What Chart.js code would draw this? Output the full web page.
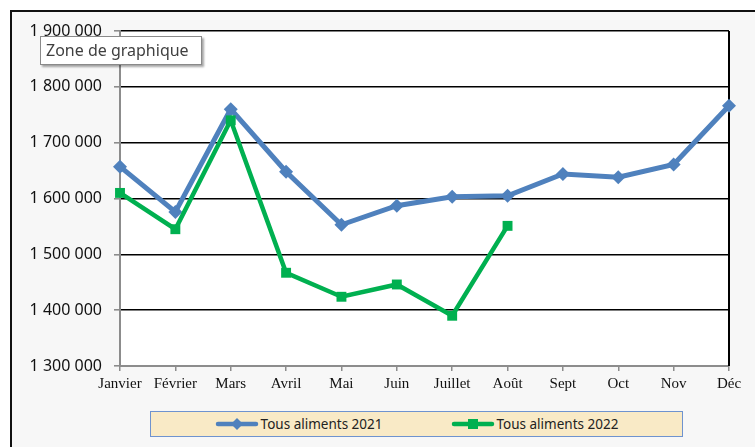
<!DOCTYPE html>
<html>
<head>
<meta charset="utf-8">
<script src="https://cdn.jsdelivr.net/npm/chart.js@4"></script>
<style>
  html, body { margin: 0; padding: 0; background: #fff; }
  body { width: 755px; height: 447px; position: relative; overflow: hidden; }
  #frame {
    position: absolute; left: 10px; top: 10px; width: 760px; height: 450px;
    background: #f7f7f7; border-left: 2px solid #111; border-top: 2px solid #111;
  }
  #chart { position: absolute; left: 0; top: 0; }
  #tip {
    position: absolute; left: 40px; top: 36px;
    background: #fff; border: 1px solid #8a8a8a; box-shadow: 2px 2px 2px rgba(0,0,0,0.35);
    font: 16px "Noto Sans", sans-serif; color: #404040; line-height: 27px;
    padding-left: 5px; box-sizing: border-box; width: 162px; height: 29px;
  }
  #legend {
    position: absolute; left: 150px; top: 411px; width: 533px; height: 26px;
    background: #f9eac6; border: 1px solid #6f93cf; box-sizing: border-box;
    display: flex; align-items: center; justify-content: center; gap: 68px;
    font: 13.5px "Noto Sans", sans-serif; color: #222;
  }
  .item { display: flex; align-items: center; }
  .item canvas { margin-right: 2px; }
</style>
</head>
<body>
<div id="frame"></div>
<canvas id="chart" width="755" height="447"></canvas>
<div id="tip">Zone de graphique</div>
<div id="legend"></div>
<script>
// data
const months = ['Janvier', 'Février', 'Mars', 'Avril', 'Mai', 'Juin', 'Juillet', 'Août', 'Sept', 'Oct', 'Nov', 'Déc'];
const food2021 = [1657000, 1576000, 1760000, 1648000, 1553000, 1587000, 1603000, 1605000, 1644000, 1638000, 1661000, 1766000];
const food2022 = [1610000, 1545000, 1740000, 1467000, 1424000, 1446000, 1390000, 1551000, null, null, null, null];
const yTicks = [1300000, 1400000, 1500000, 1600000, 1700000, 1800000, 1900000];

const BLUE = '#4f81bd';
const GREEN = '#00b050';

function fmt(v) {
  return String(v).replace(/\B(?=(\d{3})+(?!\d))/g, ' ');
}

// white plot area + black right border
const plotArea = {
  id: 'plotArea',
  beforeDraw(chart) {
    const { ctx, chartArea: a } = chart;
    ctx.save();
    ctx.fillStyle = '#fff';
    ctx.fillRect(a.left, a.top, a.right - a.left, a.bottom - a.top);
    ctx.restore();
  },
  beforeDatasetsDraw(chart) {
    const { ctx, chartArea: a } = chart;
    ctx.save();
    ctx.strokeStyle = '#000';
    ctx.lineWidth = 2;
    ctx.beginPath();
    ctx.moveTo(a.right, a.top);
    ctx.lineTo(a.right, a.bottom);
    ctx.stroke();
    ctx.restore();
  }
};

new Chart(document.getElementById('chart'), {
  type: 'line',
  data: {
    labels: months,
    datasets: [
      {
        label: 'Tous aliments 2021',
        data: food2021,
        borderColor: BLUE,
        backgroundColor: BLUE,
        borderWidth: 5,
        pointStyle: 'rectRot',
        pointRadius: 7,
        pointBorderWidth: 0,
        order: 1
      },
      {
        label: 'Tous aliments 2022',
        data: food2022,
        borderColor: GREEN,
        backgroundColor: GREEN,
        borderWidth: 4.5,
        pointStyle: 'rect',
        pointRadius: 7,
        pointBorderWidth: 0,
        order: 0
      }
    ]
  },
  options: {
    responsive: false,
    animation: false,
    layout: { padding: { left: 0, top: 31, right: 26, bottom: 49 } },
    plugins: { legend: { display: false }, tooltip: { enabled: false } },
    scales: {
      x: {
        offset: false,
        grid: { drawOnChartArea: false, drawTicks: true, tickLength: 5, tickColor: '#8c8c8c', lineWidth: 1.5 },
        border: { color: '#8c8c8c', width: 2 },
        ticks: { color: '#111', font: { family: '"Liberation Serif", serif', size: 15 }, padding: 4, maxRotation: 0, autoSkip: false },
        afterFit(scale) { scale.height = 32; }
      },
      y: {
        min: 1300000,
        max: 1900000,
        afterBuildTicks(scale) { scale.ticks = yTicks.map(v => ({ value: v })); },
        grid: {
          color: c => (c.tick && c.tick.value === yTicks[0]) ? '#8c8c8c' : '#000',
          lineWidth: 1.6,
          tickLength: 6,
          tickColor: '#8c8c8c'
        },
        border: { color: '#8c8c8c', width: 2 },
        ticks: {
          color: '#111',
          font: { family: '"Noto Sans", sans-serif', size: 16 },
          padding: 12,
          callback: v => fmt(v)
        },
        afterFit(scale) { scale.width = 120; }
      }
    }
  },
  plugins: [plotArea]
});

// legend with line + marker symbols
const legend = document.getElementById('legend');
[['Tous aliments 2021', BLUE, 'diamond'], ['Tous aliments 2022', GREEN, 'square']].forEach(([text, color, shape]) => {
  const item = document.createElement('div');
  item.className = 'item';
  const c = document.createElement('canvas');
  c.width = 44; c.height = 14;
  const g = c.getContext('2d');
  g.strokeStyle = color; g.fillStyle = color; g.lineWidth = 4.5; g.lineCap = 'round';
  g.beginPath(); g.moveTo(3, 7); g.lineTo(41, 7); g.stroke();
  g.beginPath();
  if (shape === 'diamond') {
    g.moveTo(22, 1); g.lineTo(28, 7); g.lineTo(22, 13); g.lineTo(16, 7);
  } else {
    g.rect(17, 2, 10, 10);
  }
  g.fill();
  const span = document.createElement('span');
  span.textContent = text;
  item.appendChild(c); item.appendChild(span);
  legend.appendChild(item);
});
</script>
</body>
</html>
